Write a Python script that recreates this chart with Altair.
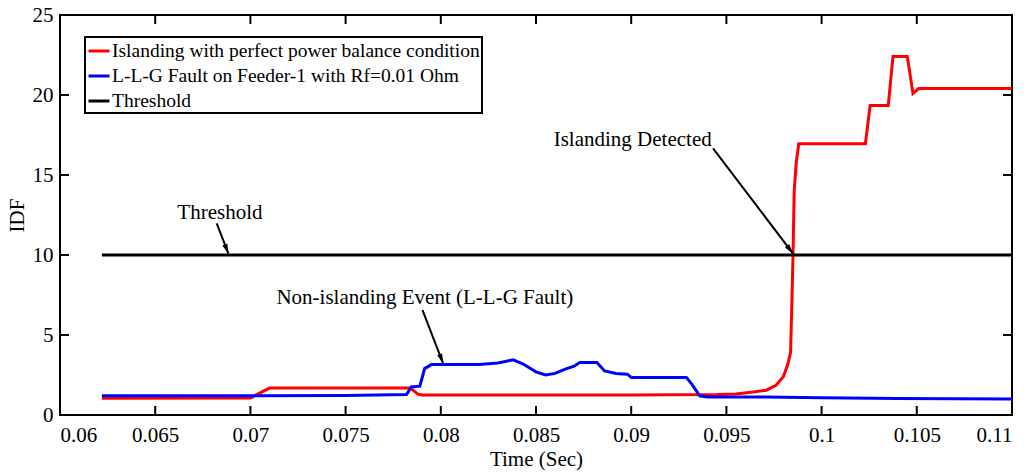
import math
import altair as alt
import pandas as pd

# ---------------- data ----------------
red_t = [0.0622, 0.0700, 0.0710, 0.0784, 0.0788, 0.0790, 0.0900, 0.0945, 0.0955,
         0.0965, 0.0971, 0.0976, 0.0980, 0.09823, 0.09837, 0.09846, 0.0985, 0.09856,
         0.09867, 0.0988, 0.1023, 0.10255, 0.1035, 0.10375, 0.1045, 0.1048, 0.1051, 0.1100]
red_v = [1.05, 1.07, 1.68, 1.68, 1.30, 1.25, 1.25, 1.28, 1.32,
         1.45, 1.55, 1.85, 2.40, 3.20, 3.90, 8.00, 10.0, 14.0,
         15.8, 16.95, 16.95, 19.35, 19.35, 22.4, 22.4, 20.1, 20.4, 20.4]

blue_t = [0.0622, 0.0700, 0.0750, 0.0782, 0.07845, 0.0789, 0.07915, 0.0795, 0.0820,
          0.0830, 0.0838, 0.0843, 0.0850, 0.0855, 0.0860, 0.0865, 0.0870, 0.0873,
          0.0882, 0.0886, 0.0892, 0.0898, 0.0900, 0.0929, 0.0932, 0.0936, 0.0940,
          0.0970, 0.1000, 0.1040, 0.1100]
blue_v = [1.20, 1.20, 1.22, 1.28, 1.75, 1.80, 2.90, 3.15, 3.15,
          3.25, 3.45, 3.20, 2.70, 2.50, 2.60, 2.85, 3.05, 3.28,
          3.28, 2.75, 2.60, 2.55, 2.35, 2.35, 1.90, 1.20, 1.12,
          1.12, 1.08, 1.03, 1.00]

thr_t = [0.0622, 0.1100]
thr_v = [10.0, 10.0]

series_names = ["Islanding with perfect power balance condition",
                "L-L-G Fault on Feeder-1 with Rf=0.01 Ohm",
                "Threshold"]
series_colors = ["#ff0000", "#0000ff", "#000000"]

x_ticks = [0.06, 0.065, 0.07, 0.075, 0.08, 0.085, 0.09, 0.095, 0.1, 0.105, 0.11]
y_ticks = [0, 5, 10, 15, 20, 25]

# annotations: text label positions and arrows (data units)
ann_text = ["Threshold", "Non-islanding Event (L-L-G Fault)", "Islanding Detected"]
ann_tx = [0.0684, 0.07916, 0.09008]
ann_ty = [12.6, 7.29, 17.2]
arr_x0 = [0.06823, 0.07904, 0.09430]
arr_y0 = [11.98, 6.56, 16.67]
arr_x1 = [0.06884, 0.08012, 0.09849]
arr_y1 = [10.1, 3.23, 10.1]

# ---------------- layout ----------------
W, H = 952, 400
X_DOM = [0.06, 0.11]
Y_DOM = [0, 25]
FONT = "Liberation Serif"
FS_AX = 21
FS_LEG = 19.5
FS_ANN = 21

rows = []
for name, ts, vs in zip(series_names, [red_t, blue_t, thr_t], [red_v, blue_v, thr_v]):
    for t, v in zip(ts, vs):
        rows.append({"series": name, "t": t, "v": v})
df = pd.DataFrame(rows)

xs = alt.Scale(domain=X_DOM, nice=False, zero=False)
ys = alt.Scale(domain=Y_DOM, nice=False)

color_enc = alt.Color(
    "series:N",
    scale=alt.Scale(domain=series_names, range=series_colors),
    sort=series_names,
    legend=alt.Legend(orient="none", legendX=25, legendY=22, title=None,
                      symbolType="stroke", symbolSize=441,
                      symbolStrokeWidth=3, labelFont=FONT,
                      labelFontSize=FS_LEG, labelColor="black",
                      strokeColor="black", fillColor="white",
                      padding=2, rowPadding=3, labelOffset=1,
                      labelLimit=0))

x_enc = alt.X("t:Q", scale=xs,
              axis=alt.Axis(values=x_ticks, format="~g", title="Time (Sec)",
                            labelPadding=9, titlePadding=3))
y_enc = alt.Y("v:Q", scale=ys,
              axis=alt.Axis(values=y_ticks, title="IDF", labelPadding=7, titlePadding=5))

line_layers = []
for name in series_names:
    line_layers.append(
        alt.Chart(df).transform_filter(alt.datum.series == name)
        .mark_line(strokeWidth=3, clip=True)
        .encode(x=x_enc, y=y_enc, color=color_enc, order=alt.Order("t:Q"))
    )

# inward ticks on all four sides
xt = pd.DataFrame({"t": x_ticks})
yt = pd.DataFrame({"v": y_ticks})
TL = 9
tick_b = alt.Chart(xt).mark_rule(color="black", strokeWidth=2).encode(
    x=alt.X("t:Q", scale=xs), y=alt.value(H), y2=alt.value(H - TL))
tick_t = alt.Chart(xt).mark_rule(color="black", strokeWidth=2).encode(
    x=alt.X("t:Q", scale=xs), y=alt.value(0), y2=alt.value(TL))
tick_l = alt.Chart(yt).mark_rule(color="black", strokeWidth=2).encode(
    y=alt.Y("v:Q", scale=ys), x=alt.value(0), x2=alt.value(TL))
tick_r = alt.Chart(yt).mark_rule(color="black", strokeWidth=2).encode(
    y=alt.Y("v:Q", scale=ys), x=alt.value(W), x2=alt.value(W - TL))

# annotations
px_per_x = W / (X_DOM[1] - X_DOM[0])
px_per_y = H / (Y_DOM[1] - Y_DOM[0])
angles = []
for a, b, c, d in zip(arr_x0, arr_y0, arr_x1, arr_y1):
    dx = (c - a) * px_per_x
    dy = -(d - b) * px_per_y
    ang = math.degrees(math.atan2(dx, -dy)) % 360
    angles.append(ang)

adf = pd.DataFrame({"text": ann_text, "tx": ann_tx, "ty": ann_ty,
                    "x0": arr_x0, "y0": arr_y0, "x1": arr_x1, "y1": arr_y1,
                    "ang": angles})

texts = alt.Chart(adf).mark_text(font=FONT, fontSize=FS_ANN, color="black",
                                 align="center", baseline="middle").encode(
    x=alt.X("tx:Q", scale=xs), y=alt.Y("ty:Q", scale=ys), text="text:N")
shafts = alt.Chart(adf).mark_rule(color="black", strokeWidth=2).encode(
    x=alt.X("x0:Q", scale=xs), y=alt.Y("y0:Q", scale=ys),
    x2="x1:Q", y2="y1:Q")
heads = alt.Chart(adf).mark_point(shape="M0,0L-0.45,1.6L0.45,1.6Z", filled=True,
                                  color="black", opacity=1, size=144).encode(
    x=alt.X("x1:Q", scale=xs), y=alt.Y("y1:Q", scale=ys),
    angle=alt.Angle("ang:Q", scale=None))

chart = alt.layer(*line_layers, tick_b, tick_t, tick_l, tick_r, shafts, heads, texts).properties(
    width=W, height=H,
    padding={"left": 60, "top": 15, "right": 21, "bottom": 61},
    autosize=alt.AutoSizeParams(type="none"),
    background="white",
).configure_view(
    stroke="black", strokeWidth=2
).configure_axis(
    grid=False, domain=False, ticks=False,
    labelFont=FONT, labelFontSize=FS_AX, labelColor="black",
    titleFont=FONT, titleFontSize=FS_AX, titleFontWeight="normal", titleColor="black",
).configure_legend(
    strokeWidth=2
)

chart.save("out.html", embed_options={"renderer": "svg", "actions": False})
